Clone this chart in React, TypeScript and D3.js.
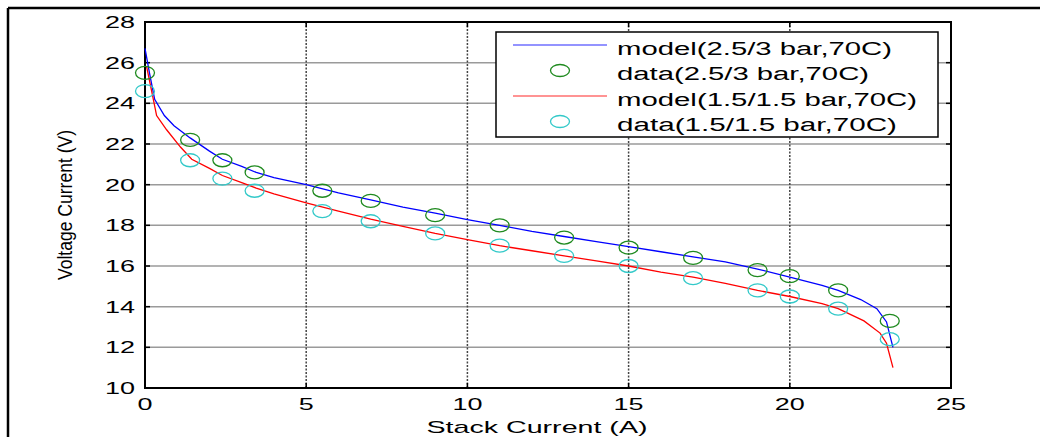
import React from "react";
import * as d3 from "d3";

// measured data: stack current (A) vs voltage (V)
const dataCurrent = [0, 1.4, 2.4, 3.4, 5.5, 7, 9, 11, 13, 15, 17, 19, 20, 21.5, 23.1];
const dataHigh = [25.5, 22.2, 21.2, 20.6, 19.7, 19.2, 18.5, 18.0, 17.4, 16.9, 16.4, 15.8, 15.5, 14.8, 13.3];
const dataLow = [24.6, 21.2, 20.3, 19.7, 18.7, 18.2, 17.6, 17.0, 16.5, 16.0, 15.4, 14.8, 14.5, 13.9, 12.4];

// model curves
const modelHighX = [0, 0.15, 0.3, 0.6, 0.9, 1.4, 2, 2.4, 3, 3.45, 4, 5, 6, 7, 8, 9, 10, 11, 12, 13, 14, 15, 16, 17, 18, 19, 20, 21, 21.5, 22.2, 22.7, 23.0, 23.2];
const modelHighY = [26.7, 25.4, 24.2, 23.4, 22.9, 22.3, 21.65, 21.25, 20.9, 20.6, 20.35, 20.0, 19.6, 19.25, 18.9, 18.6, 18.28, 18.0, 17.7, 17.45, 17.2, 16.95, 16.7, 16.45, 16.2, 15.85, 15.45, 15.05, 14.8, 14.35, 13.9, 13.25, 12.0];
const modelLowX = [0.05, 0.2, 0.36, 0.67, 1.1, 1.45, 2, 2.4, 3, 3.45, 4, 5, 6, 7, 8, 9, 10, 11, 12, 13, 14, 15, 16, 17, 18, 19, 20, 21, 21.5, 22.3, 22.8, 23.0, 23.2];
const modelLowY = [25.8, 24.65, 23.4, 22.7, 21.85, 21.25, 20.8, 20.45, 20.1, 19.83, 19.55, 19.1, 18.7, 18.3, 17.95, 17.6, 17.3, 17.0, 16.75, 16.5, 16.25, 16.0, 15.7, 15.45, 15.15, 14.8, 14.5, 14.15, 13.9, 13.3, 12.7, 12.2, 11.0];

const xTicks = [0, 5, 10, 15, 20, 25];
const yTicks = [10, 12, 14, 16, 18, 20, 22, 24, 26, 28];

const legendLabels = [
  "model(2.5/3 bar,70C)",
  "data(2.5/3 bar,70C)",
  "model(1.5/1.5 bar,70C)",
  "data(1.5/1.5 bar,70C)",
];
const legendWidths = [275, 252, 300, 280];

const W = 1040;
const H = 437;
const left = 145, right = 951, top = 22, bottom = 388;
const font = "'Liberation Sans', Arial, sans-serif";

export default function App() {
  const x = d3.scaleLinear().domain([0, 25]).range([left, right]);
  const y = d3.scaleLinear().domain([10, 28]).range([bottom, top]);

  const line = d3.line<[number, number]>().x(d => x(d[0])).y(d => y(d[1]));
  const highPath = line(modelHighX.map((v, i) => [v, modelHighY[i]])) || "";
  const lowPath = line(modelLowX.map((v, i) => [v, modelLowY[i]])) || "";

  const green = "#1f8a1f";
  const cyan = "#33c9c9";

  return (
    <svg width={W} height={H} style={{ position: "absolute", left: 0, top: 0, background: "#fff" }}>
      {/* outer frame */}
      <line x1={8} y1={8} x2={W} y2={8} stroke="#000" strokeWidth={2.5} />
      <line x1={8} y1={8} x2={8} y2={H} stroke="#000" strokeWidth={2.5} />

      {/* grid */}
      {yTicks.filter(t => t > 10 && t < 28).map(t => (
        <line key={"gy" + t} x1={left} x2={right} y1={y(t)} y2={y(t)} stroke="#9a9a9a" strokeWidth={1.5} />
      ))}
      {xTicks.filter(t => t > 0 && t < 25).map(t => (
        <line key={"gx" + t} x1={x(t)} x2={x(t)} y1={top} y2={bottom} stroke="#444" strokeWidth={1.5} strokeDasharray="2,1.5" />
      ))}

      {/* ticks */}
      {yTicks.map(t => (
        <g key={"ty" + t}>
          <line x1={left} x2={left + 5} y1={y(t)} y2={y(t)} stroke="#000" strokeWidth={1.5} />
          <line x1={right - 5} x2={right} y1={y(t)} y2={y(t)} stroke="#000" strokeWidth={1.5} />
          <text x={135} y={y(t) + 6} textAnchor="end" fontFamily={font} fontSize={17}
            textLength={t >= 10 ? 30 : 15} lengthAdjust="spacingAndGlyphs">{t}</text>
        </g>
      ))}
      {xTicks.map(t => (
        <g key={"tx" + t}>
          <line x1={x(t)} x2={x(t)} y1={bottom} y2={bottom - 5} stroke="#000" strokeWidth={1.5} />
          <line x1={x(t)} x2={x(t)} y1={top} y2={top + 5} stroke="#000" strokeWidth={1.5} />
          <text x={x(t)} y={410} textAnchor="middle" fontFamily={font} fontSize={17}
            textLength={t >= 10 ? 30 : 15} lengthAdjust="spacingAndGlyphs">{t}</text>
        </g>
      ))}

      {/* axes box */}
      <rect x={left} y={top} width={right - left} height={bottom - top} fill="none" stroke="#000" strokeWidth={2} />

      {/* model curves */}
      <path d={highPath} fill="none" stroke="#0000ff" strokeWidth={1.3} />
      <path d={lowPath} fill="none" stroke="#ff0000" strokeWidth={1.3} />

      {/* data markers */}
      {dataCurrent.map((c, i) => (
        <ellipse key={"dh" + i} cx={x(c)} cy={y(dataHigh[i])} rx={9.5} ry={6.5} fill="none" stroke={green} strokeWidth={1.3} />
      ))}
      {dataCurrent.map((c, i) => (
        <ellipse key={"dl" + i} cx={x(c)} cy={y(dataLow[i])} rx={9.5} ry={6.5} fill="none" stroke={cyan} strokeWidth={1.3} />
      ))}

      {/* legend */}
      <rect x={496} y={32} width={442} height={105} fill="#fff" stroke="#000" strokeWidth={1.5} />
      {legendLabels.map((lab, i) => {
        const ly = 45 + i * 25.5;
        return (
          <g key={"lg" + i}>
            {i % 2 === 0 ? (
              <line x1={513} x2={607} y1={ly} y2={ly} stroke={i === 0 ? "#6f6fff" : "#ff6f6f"} strokeWidth={1.3} />
            ) : (
              <ellipse cx={560} cy={ly} rx={9.5} ry={6} fill="none" stroke={i === 1 ? green : cyan} strokeWidth={1.3} />
            )}
            <text x={617} y={ly + 9.5} fontFamily={font} fontSize={18}
              textLength={legendWidths[i]} lengthAdjust="spacingAndGlyphs">{lab}</text>
          </g>
        );
      })}

      {/* axis labels */}
      <text x={537} y={433} textAnchor="middle" fontFamily={font} fontSize={17}
        textLength={221} lengthAdjust="spacingAndGlyphs">Stack Current (A)</text>
      <text transform="translate(72,205) rotate(-90)" textAnchor="middle" fontFamily={font} fontSize={20}
        textLength={150} lengthAdjust="spacingAndGlyphs">Voltage Current (V)</text>
    </svg>
  );
}
